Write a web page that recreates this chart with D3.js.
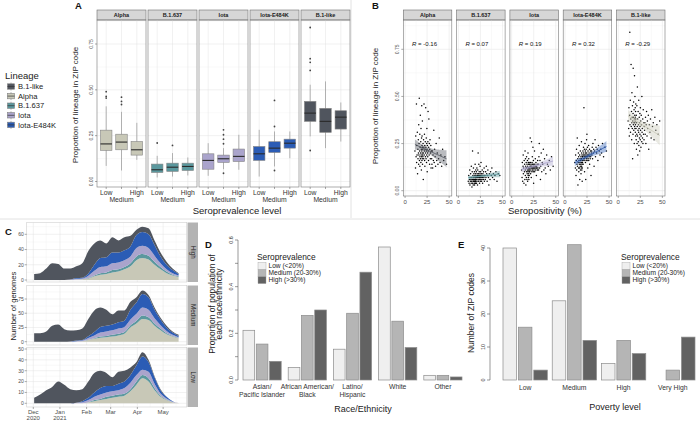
<!DOCTYPE html>
<html>
<head>
<meta charset="utf-8">
<script src="https://cdnjs.cloudflare.com/ajax/libs/d3/7.8.5/d3.min.js"></script>
<style>
body { margin: 0; background: #fff; }
svg text { font-family: "Liberation Sans", Arial, sans-serif; }
</style>
</head>
<body>
<script>
// ---------- data ----------
var lineages = ["B.1-like", "Alpha", "B.1.637", "Iota", "Iota-E484K"];
var lineageColors = ["#50555e", "#c8c8b7", "#5b989e", "#aaa4cc", "#2b5cb5"];
var facetsAB = ["Alpha", "B.1.637", "Iota", "Iota-E484K", "B.1-like"];
var seroLevels = ["Low", "Medium", "High"];

// boxplot stats per level: [lower whisker, q1, median, q3, upper whisker]
var boxAlpha  = [[0.085,0.17,0.205,0.28,0.41],[0.06,0.173,0.215,0.258,0.38],[0.118,0.144,0.173,0.218,0.32]];
var boxB1637  = [[0.022,0.049,0.064,0.095,0.14],[0.027,0.055,0.078,0.10,0.155],[0.033,0.06,0.082,0.10,0.131]];
var boxIota   = [[0.031,0.067,0.115,0.151,0.209],[0.067,0.104,0.124,0.144,0.182],[0.064,0.109,0.137,0.177,0.255]];
var boxE484K  = [[0.027,0.115,0.151,0.191,0.282],[0.082,0.158,0.182,0.217,0.273],[0.127,0.182,0.209,0.231,0.273]];
var boxB1like = [[0.246,0.328,0.373,0.437,0.528],[0.182,0.268,0.328,0.399,0.546],[0.218,0.286,0.351,0.386,0.431]];
// outliers: [level index, value]
var outAlpha  = [[0,0.455],[0,0.464],[0,0.49],[1,0.42],[1,0.437],[1,0.46]];
var outB1637  = [[0,0.21],[1,0.197]];
var outIota   = [[1,0.282],[1,0.255],[1,0.231],[1,0.206],[1,0.045]];
var outE484K  = [[1,0.442],[1,0.30],[1,0.06]];
var outB1like = [[0,0.84],[0,0.67],[0,0.65],[0,0.606],[0,0.169]];

// seropositivity (%) per ZIP code, and lineage proportions for the same ZIPs
var seroX = [11.2,11.8,12.1,12.5,12.9,13.1,13.3,13.6,13.9,14.2,14.5,14.7,15.0,15.2,15.4,15.5,15.7,15.9,16.1,16.3,
  16.5,16.7,16.8,16.9,17.1,17.3,17.4,17.6,17.8,17.9,18.1,18.2,18.4,18.5,18.7,18.8,18.9,19.0,19.1,19.2,
  19.3,19.4,19.5,19.6,19.7,19.8,19.9,
  20.1,20.3,20.4,20.6,20.8,21.0,21.1,21.3,21.5,21.7,21.8,22.0,22.2,22.4,22.5,22.7,22.9,23.1,23.2,23.4,
  23.6,23.8,24.0,24.1,24.3,24.5,24.6,24.7,24.9,25.1,25.3,25.5,25.7,25.9,26.1,26.3,26.6,26.8,27.0,27.3,
  27.5,27.8,28.0,28.3,28.6,28.9,29.2,29.5,29.8,
  30.2,30.5,30.9,31.3,31.7,32.1,32.6,33.0,33.5,34.1,34.6,35.2,35.9,36.5,37.3,38.0,38.8,39.7,40.6,41.5,
  42.6,43.8,45.2,47.0];
var yAlpha = [0.21,0.12,0.29,0.18,0.46,0.15,0.24,0.19,0.31,0.09,0.22,0.17,0.27,0.20,0.14,0.35,0.19,0.25,0.49,0.16,
  0.21,0.30,0.13,0.18,0.23,0.40,0.17,0.20,0.26,0.15,0.33,0.19,0.22,0.11,0.28,0.18,0.45,0.21,0.16,0.24,
  0.29,0.20,0.17,0.37,0.23,0.14,0.19,
  0.22,0.18,0.25,0.06,0.20,0.27,0.17,0.23,0.46,0.19,0.21,0.30,0.16,0.24,0.13,0.22,0.26,0.18,0.20,0.44,
  0.23,0.17,0.28,0.21,0.15,0.25,0.19,0.33,0.22,0.10,0.24,0.20,0.18,0.26,0.42,0.21,0.16,0.23,0.38,0.19,
  0.25,0.14,0.22,0.27,0.17,0.20,0.24,0.12,0.21,
  0.17,0.14,0.21,0.12,0.19,0.16,0.32,0.15,0.22,0.18,0.13,0.25,0.16,0.20,0.14,0.17,0.28,0.15,0.19,0.13,
  0.22,0.16,0.18,0.14];
var yB1637 = [0.05,0.08,0.04,0.06,0.11,0.03,0.07,0.05,0.09,0.06,0.04,0.13,0.05,0.07,0.02,0.06,0.10,0.04,0.21,0.06,
  0.08,0.05,0.03,0.07,0.12,0.05,0.06,0.09,0.04,0.07,0.05,0.10,0.03,0.06,0.08,0.05,0.04,0.14,0.06,0.07,
  0.05,0.09,0.04,0.06,0.11,0.05,0.07,
  0.08,0.06,0.10,0.04,0.07,0.12,0.05,0.09,0.07,0.03,0.08,0.11,0.06,0.20,0.07,0.09,0.05,0.08,0.14,0.06,
  0.10,0.07,0.04,0.08,0.06,0.09,0.13,0.07,0.05,0.08,0.10,0.06,0.15,0.07,0.09,0.05,0.08,0.06,0.11,0.07,
  0.04,0.09,0.08,0.06,0.10,0.07,0.12,0.05,0.08,
  0.08,0.06,0.10,0.07,0.13,0.09,0.05,0.08,0.11,0.07,0.03,0.09,0.06,0.10,0.08,0.12,0.07,0.09,0.06,0.08,
  0.10,0.05,0.09,0.08];
var yIota = [0.11,0.07,0.15,0.05,0.13,0.19,0.09,0.12,0.04,0.16,0.10,0.14,0.06,0.21,0.11,0.08,0.17,0.13,0.03,0.12,
  0.15,0.07,0.10,0.18,0.12,0.06,0.14,0.09,0.11,0.16,0.05,0.13,0.10,0.20,0.08,0.12,0.15,0.07,0.11,0.14,
  0.09,0.17,0.06,0.12,0.10,0.15,0.08,
  0.12,0.11,0.14,0.10,0.13,0.28,0.12,0.15,0.09,0.13,0.11,0.14,0.07,0.12,0.26,0.13,0.10,0.15,0.12,0.18,
  0.11,0.14,0.12,0.23,0.13,0.10,0.16,0.12,0.04,0.14,0.11,0.13,0.12,0.21,0.10,0.14,0.12,0.17,0.13,0.11,
  0.15,0.12,0.08,0.13,0.12,0.14,0.11,0.16,0.12,
  0.14,0.11,0.18,0.25,0.12,0.16,0.06,0.13,0.20,0.10,0.15,0.14,0.22,0.11,0.17,0.12,0.09,0.19,0.14,0.13,
  0.16,0.11,0.18,0.13];
var yE484K = [0.15,0.12,0.19,0.08,0.16,0.22,0.11,0.14,0.28,0.13,0.17,0.03,0.15,0.20,0.12,0.18,0.10,0.16,0.24,0.14,
  0.12,0.19,0.06,0.15,0.17,0.13,0.21,0.11,0.16,0.14,0.18,0.09,0.15,0.12,0.26,0.17,0.13,0.20,0.11,0.15,
  0.19,0.14,0.05,0.16,0.12,0.18,0.15,
  0.18,0.16,0.21,0.14,0.19,0.23,0.17,0.20,0.44,0.16,0.18,0.22,0.10,0.19,0.17,0.25,0.18,0.21,0.15,0.20,
  0.06,0.19,0.16,0.22,0.18,0.27,0.17,0.20,0.30,0.16,0.19,0.23,0.18,0.12,0.21,0.17,0.19,0.24,0.16,0.20,
  0.18,0.22,0.14,0.19,0.17,0.21,0.18,0.08,0.20,
  0.21,0.19,0.23,0.17,0.25,0.20,0.22,0.13,0.21,0.27,0.18,0.23,0.20,0.22,0.16,0.24,0.21,0.19,0.22,0.20,
  0.25,0.18,0.23,0.21];
var yB1like = [0.37,0.33,0.44,0.29,0.40,0.84,0.35,0.48,0.31,0.38,0.67,0.34,0.42,0.27,0.36,0.52,0.39,0.33,0.45,0.17,
  0.37,0.30,0.41,0.65,0.35,0.39,0.47,0.32,0.36,0.43,0.25,0.38,0.61,0.34,0.40,0.36,0.50,0.33,0.37,0.44,
  0.31,0.39,0.35,0.42,0.29,0.38,0.46,
  0.33,0.27,0.40,0.22,0.36,0.30,0.45,0.25,0.34,0.55,0.29,0.38,0.19,0.32,0.42,0.26,0.35,0.31,0.48,0.24,
  0.33,0.39,0.28,0.36,0.21,0.41,0.30,0.34,0.27,0.44,0.32,0.37,0.23,0.29,0.40,0.35,0.26,0.50,0.31,0.33,
  0.28,0.38,0.25,0.43,0.30,0.36,0.27,0.34,0.32,
  0.36,0.30,0.39,0.25,0.35,0.42,0.29,0.37,0.33,0.40,0.22,0.35,0.31,0.38,0.28,0.43,0.34,0.36,0.27,0.39,
  0.32,0.35,0.30,0.37];
var corrLabels = ["-0.16", "0.07", "0.19", "0.32", "-0.29"];
var fitColors = ["#50555e", "#5b989e", "#aaa4cc", "#2b5cb5", "#c8c8b7"];

// panel C: weekly genome counts by lineage, for each seroprevalence level
var weeks = ["2020-12-02","2020-12-09","2020-12-16","2020-12-23","2020-12-30","2021-01-06","2021-01-13",
  "2021-01-20","2021-01-27","2021-02-03","2021-02-10","2021-02-17","2021-02-24","2021-03-03","2021-03-10",
  "2021-03-17","2021-03-24","2021-03-31","2021-04-07","2021-04-14","2021-04-21","2021-04-28","2021-05-05",
  "2021-05-12","2021-05-19"];
var highAlpha  = [0,0,0,0,0,0,0,0.5,1,2,5,7,8,10,11,14,18,26,29,27,20,14,9,6,4];
var highB1637  = [0,0,0,0,0,0,0,0,0,0.5,1,2,2,3,3,3,4,5,5,5,4,3,2,1,1];
var highIota   = [0,0,0,0,0,0,0.5,1,1,3,6,8,8,9,9,9,9,11,11,10,8,5,3,2,1];
var highE484K  = [0,0,0,0,0,0,0,1,1,3,8,12,12,14,13,13,13,17,18,18,14,9,6,4,2];
var highB1like = [8,9,15,22,21,15,14.5,15.5,19,29.5,28,23,18,20,16,17,14,7,7,8,6,5,4,2,1];
var medAlpha   = [0,0,0,0,0,0,0,0.5,1,3,5,7,8,9,11,14,25,32,40,38,28,20,13,9,6];
var medB1637   = [0,0,0,0,0,0,0,0,0,0.5,1,2,2,3,3,3,4,5,6,5,4,3,2,1,1];
var medIota    = [0,0,0,0,0,0,0.5,0.5,1,3,5,7,8,8,9,9,10,12,14,13,9,6,4,2,1];
var medE484K   = [0,0,0,0,0,0,0,1,1,3,6,10,10,10,11,11,17,20,24,22,15,10,6,4,2];
var medB1like  = [15,15,18,28,30,22,19,18,20,30.5,38,34,28,18,21,18,14,9,6,4,4,3,3,2,2];
var lowAlpha   = [0,0,0,0,0,0,0,0,0,1,2,3,4,5,6,7,11,17,23,20,12,6,3,1,0.3];
var lowB1637   = [0,0,0,0,0,0,0,0,0,0,1,1,2,2,2,2,2,3,3,3,2,1,0.5,0,0];
var lowIota    = [0,0,0,0,0,0,0,0.5,1,2,3,4,4,4,4,5,6,6,5,6,4,2,1,0.5,0];
var lowE484K   = [0,0,0,0,0,0,0,0,1,2,4,6,6,5,6,6,7,9,12,9,6,3,1.5,0.5,0];
var lowB1like  = [5,8,12,15,20,17,13,11.5,11,15,18,16,12,8,11,10,7,3,4,2,1,1,0,0,0];
var monthTicks = ["2020-12-01","2021-01-01","2021-02-01","2021-03-01","2021-04-01","2021-05-01"];
var monthLabels = [["Dec","2020"],["Jan","2021"],["Feb"],["Mar"],["Apr"],["May"]];

// panel D: proportion of population by race/ethnicity
var raceLabels = [["Asian/","Pacific Islander"],["African American/","Black"],["Latino/","Hispanic"],["White"],["Other"]];
var raceLow  = [0.213, 0.054, 0.132, 0.57, 0.02];
var raceMed  = [0.154, 0.277, 0.286, 0.252, 0.02];
var raceHigh = [0.08, 0.30, 0.462, 0.139, 0.013];

// panel E: number of ZIP codes by poverty level
var povertyLevels = ["Low", "Medium", "High", "Very High"];
var zipLow  = [40, 24, 5, 0];
var zipMed  = [16, 41, 12, 3];
var zipHigh = [3, 12, 8, 13];

var seroLegend = ["Low (<20%)", "Medium (20-30%)", "High (>30%)"];
var seroFill = ["#efefef", "#b5b5b5", "#626262"];

// ---------- drawing ----------
var color = d3.scaleOrdinal(lineages, lineageColors);
var svg = d3.select("body").append("svg").attr("width", 700).attr("height", 421);

svg.append("line").attr("x1", 0).attr("x2", 700).attr("y1", 219).attr("y2", 219).attr("stroke", "#e2e2e2");
svg.append("line").attr("x1", 351).attr("x2", 351).attr("y1", 0).attr("y2", 218).attr("stroke", "#e2e2e2");

function panelLetter(x, y, t) {
  svg.append("text").attr("x", x).attr("y", y).attr("font-size", "9.5px")
    .attr("font-weight", "bold").attr("fill", "#111").text(t);
}
function vText(g, x, y, t, size, fill) {
  return g.append("text").attr("transform", "translate(" + x + "," + y + ") rotate(-90)")
    .attr("text-anchor", "middle").attr("font-size", size).attr("fill", fill || "#222").text(t);
}

panelLetter(75, 9, "A");
panelLetter(372, 9, "B");
panelLetter(5, 235, "C");
panelLetter(205, 248, "D");
panelLetter(458, 248, "E");

// lineage legend
var leg = svg.append("g");
leg.append("text").attr("x", 5).attr("y", 79).attr("font-size", "9.5px").attr("fill", "#222").text("Lineage");
lineages.forEach(function(l, i) {
  var cy = 86.5 + i * 9.6;
  leg.append("line").attr("x1", 11).attr("x2", 11).attr("y1", cy - 4).attr("y2", cy + 4)
    .attr("stroke", "#808080").attr("stroke-width", 0.6);
  leg.append("rect").attr("x", 7.5).attr("y", cy - 2.7).attr("width", 7).attr("height", 5.4)
    .attr("fill", color(l)).attr("stroke", "#808080").attr("stroke-width", 0.6);
  leg.append("line").attr("x1", 7.5).attr("x2", 14.5).attr("y1", cy).attr("y2", cy)
    .attr("stroke", "#333").attr("stroke-width", 0.7);
  leg.append("text").attr("x", 18).attr("y", cy + 2.7).attr("font-size", "7.6px").attr("fill", "#222").text(l);
});

// shared facet frame for A and B
var yTicksAB = [0, 0.25, 0.5, 0.75];
var yMinorAB = [0.125, 0.375, 0.625, 0.875];
function facetFrame(g, w, top, bot, y, title) {
  g.append("rect").attr("x", 0).attr("y", top).attr("width", w).attr("height", bot - top).attr("fill", "#fff");
  g.selectAll("line.minor").data(yMinorAB.filter(function(v) { return y(v) > top; })).join("line")
    .attr("x1", 0).attr("x2", w).attr("y1", function(d) { return y(d); }).attr("y2", function(d) { return y(d); })
    .attr("stroke", "#f1f1f1").attr("stroke-width", 0.4);
  g.selectAll("line.major").data(yTicksAB).join("line")
    .attr("x1", 0).attr("x2", w).attr("y1", function(d) { return y(d); }).attr("y2", function(d) { return y(d); })
    .attr("stroke", "#e3e3e3").attr("stroke-width", 0.5);
  g.append("rect").attr("x", 0).attr("y", top - 10).attr("width", w).attr("height", 10)
    .attr("fill", "#d6d6d6").attr("stroke", "#6e6e6e").attr("stroke-width", 0.6);
  g.append("text").attr("x", w / 2).attr("y", top - 3).attr("text-anchor", "middle")
    .attr("font-size", "5.5px").attr("font-weight", "bold").attr("fill", "#1a1a1a").text(title);
}
function facetBorder(g, w, top, bot) {
  g.append("rect").attr("x", 0).attr("y", top).attr("width", w).attr("height", bot - top)
    .attr("fill", "none").attr("stroke", "#777").attr("stroke-width", 0.6);
}

// ---- panel A ----
var boxStats = [boxAlpha, boxB1637, boxIota, boxE484K, boxB1like];
var boxOutliers = [outAlpha, outB1637, outIota, outE484K, outB1like];
var aLeft = 97, aStep = 51, aW = 49, aTop = 20, aBot = 187;
var yA = d3.scaleLinear().domain([0, 0.75]).range([181.5, 44]);
var xA = d3.scalePoint().domain(seroLevels).range([0, aW]).padding(0.6);

facetsAB.forEach(function(f, i) {
  var g = svg.append("g").attr("transform", "translate(" + (aLeft + i * aStep) + ",0)");
  facetFrame(g, aW, aTop, aBot, yA, f);
  g.selectAll("line.vgrid").data(seroLevels).join("line")
    .attr("x1", function(d) { return xA(d); }).attr("x2", function(d) { return xA(d); })
    .attr("y1", aTop).attr("y2", aBot).attr("stroke", "#e3e3e3").attr("stroke-width", 0.5);
  boxStats[i].forEach(function(s, j) {
    var cx = xA(seroLevels[j]), bw = 11.5;
    g.append("line").attr("x1", cx).attr("x2", cx).attr("y1", yA(s[0])).attr("y2", yA(s[4]))
      .attr("stroke", "#858585").attr("stroke-width", 0.6);
    g.append("rect").attr("x", cx - bw / 2).attr("y", yA(s[3])).attr("width", bw)
      .attr("height", yA(s[1]) - yA(s[3])).attr("fill", color(f))
      .attr("stroke", "#858585").attr("stroke-width", 0.6);
    g.append("line").attr("x1", cx - bw / 2).attr("x2", cx + bw / 2).attr("y1", yA(s[2])).attr("y2", yA(s[2]))
      .attr("stroke", "#2a2a2a").attr("stroke-width", 1.1);
  });
  g.selectAll("circle").data(boxOutliers[i]).join("circle")
    .attr("cx", function(d) { return xA(seroLevels[d[0]]); }).attr("cy", function(d) { return yA(d[1]); })
    .attr("r", 0.9).attr("fill", "#444");
  facetBorder(g, aW, aTop, aBot);
  seroLevels.forEach(function(l, j) {
    g.append("line").attr("x1", xA(l)).attr("x2", xA(l)).attr("y1", aBot).attr("y2", aBot + 2).attr("stroke", "#555").attr("stroke-width", 0.5);
    g.append("text").attr("x", xA(l)).attr("y", j === 1 ? 202 : 195).attr("text-anchor", "middle")
      .attr("font-size", "6.8px").attr("fill", "#333").text(l);
  });
});
yTicksAB.forEach(function(v) {
  svg.append("line").attr("x1", aLeft - 2).attr("x2", aLeft).attr("y1", yA(v)).attr("y2", yA(v)).attr("stroke", "#555").attr("stroke-width", 0.5);
  vText(svg, 92.5, yA(v), d3.format(".2f")(v), "5px", "#4d4d4d");
});
vText(svg, 78, 105, "Proportion of lineage in ZIP code", "8px");
svg.append("text").attr("x", 237).attr("y", 213.5).attr("text-anchor", "middle")
  .attr("font-size", "9.5px").attr("fill", "#222").text("Seroprevalence level");

// ---- panel B ----
var scatterY = [yAlpha, yB1637, yIota, yE484K, yB1like];
var bLeft = 403.3, bStep = 53.3, bW = 48.5, bTop = 20, bBot = 196;
var yB = d3.scaleLinear().domain([0, 0.75]).range([190.7, 49.3]);
var xB = d3.scaleLinear().domain([-2, 53]).range([0, bW]);

function linFit(xs, ys) {
  var n = xs.length, mx = d3.mean(xs), my = d3.mean(ys);
  var sxx = d3.sum(xs, function(x) { return (x - mx) * (x - mx); });
  var sxy = d3.sum(xs, function(x, i) { return (x - mx) * (ys[i] - my); });
  var b = sxy / sxx, a = my - b * mx;
  var sse = d3.sum(xs, function(x, i) { return Math.pow(ys[i] - a - b * x, 2); });
  var s = Math.sqrt(sse / (n - 2));
  var ext = d3.extent(xs);
  return d3.range(41).map(function(k) {
    var x = ext[0] + (ext[1] - ext[0]) * k / 40;
    var se = s * Math.sqrt(1 / n + (x - mx) * (x - mx) / sxx);
    return { x: x, y: a + b * x, lo: a + b * x - 1.98 * se, hi: a + b * x + 1.98 * se };
  });
}

facetsAB.forEach(function(f, i) {
  var g = svg.append("g").attr("transform", "translate(" + (bLeft + i * bStep) + ",0)");
  facetFrame(g, bW, bTop, bBot, yB, f);
  g.selectAll("line.vminor").data([12.5, 37.5]).join("line")
    .attr("x1", function(d) { return xB(d); }).attr("x2", function(d) { return xB(d); })
    .attr("y1", bTop).attr("y2", bBot).attr("stroke", "#f1f1f1").attr("stroke-width", 0.4);
  g.selectAll("line.vgrid").data([0, 25, 50]).join("line")
    .attr("x1", function(d) { return xB(d); }).attr("x2", function(d) { return xB(d); })
    .attr("y1", bTop).attr("y2", bBot).attr("stroke", "#e3e3e3").attr("stroke-width", 0.5);
  var ys = scatterY[i];
  g.selectAll("circle").data(seroX).join("circle")
    .attr("cx", function(d) { return xB(d); }).attr("cy", function(d, k) { return yB(ys[k]); })
    .attr("r", 0.75).attr("fill", "#000");
  var fit = linFit(seroX, ys);
  g.append("path").datum(fit)
    .attr("d", d3.area().x(function(d) { return xB(d.x); }).y0(function(d) { return yB(d.lo); }).y1(function(d) { return yB(d.hi); }))
    .attr("fill", fitColors[i]).attr("opacity", 0.4);
  g.append("path").datum(fit)
    .attr("d", d3.line().x(function(d) { return xB(d.x); }).y(function(d) { return yB(d.y); }))
    .attr("fill", "none").attr("stroke", fitColors[i]).attr("stroke-width", 0.9);
  var rt = g.append("text").attr("x", xB(8)).attr("y", yB(0.765)).attr("font-size", "6px").attr("fill", "#111");
  rt.append("tspan").attr("font-style", "italic").text("R");
  rt.append("tspan").text(" = " + corrLabels[i]);
  facetBorder(g, bW, bTop, bBot);
  [0, 25, 50].forEach(function(v) {
    g.append("line").attr("x1", xB(v)).attr("x2", xB(v)).attr("y1", bBot).attr("y2", bBot + 2).attr("stroke", "#555").attr("stroke-width", 0.5);
    g.append("text").attr("x", xB(v)).attr("y", 204).attr("text-anchor", "middle")
      .attr("font-size", "6px").attr("fill", "#4d4d4d").text(v);
  });
});
yTicksAB.forEach(function(v) {
  svg.append("line").attr("x1", bLeft - 2).attr("x2", bLeft).attr("y1", yB(v)).attr("y2", yB(v)).attr("stroke", "#555").attr("stroke-width", 0.5);
  vText(svg, 398.5, yB(v), d3.format(".2f")(v), "5px", "#4d4d4d");
});
vText(svg, 378, 106, "Proportion of lineage in ZIP code", "8px");
svg.append("text").attr("x", 545).attr("y", 214).attr("text-anchor", "middle")
  .attr("font-size", "9.5px").attr("fill", "#222").text("Seropositivity (%)");

// ---- panel C ----
var parse = d3.timeParse("%Y-%m-%d");
var stackKeys = ["Alpha", "B.1.637", "Iota", "Iota-E484K", "B.1-like"];
var cSeries = [
  [highAlpha, highB1637, highIota, highE484K, highB1like],
  [medAlpha, medB1637, medIota, medE484K, medB1like],
  [lowAlpha, lowB1637, lowIota, lowE484K, lowB1like]
];
var cFacets = ["High", "Medium", "Low"];
var cTops = [222.5, 285.5, 347.5], cH = 59.5;
var cTicks = [[0, 20, 40, 60], [0, 25, 50, 75], [0, 10, 20, 30, 40, 50]];
var cY = [
  d3.scaleLinear().domain([0, 60]).range([280, 234.3]),
  d3.scaleLinear().domain([0, 75]).range([341.7, 299]),
  d3.scaleLinear().domain([0, 50]).range([403.3, 349])
];
var cLeft = 26.7, cRight = 186.7;
var xC = d3.scaleTime().domain([new Date(2020, 10, 23, 8), new Date(2021, 4, 28, 10)]).range([cLeft, cRight]);
var monthDates = monthTicks.map(parse);
var midMonths = [parse("2020-11-16")].concat(monthDates.map(function(d) { return d3.timeDay.offset(d, 15); }));

cFacets.forEach(function(f, k) {
  var y = cY[k], top = cTops[k], bot = top + cH;
  var g = svg.append("g");
  var ticks = cTicks[k];
  var minor = ticks.map(function(t, j) { return j < ticks.length - 1 ? (t + ticks[j + 1]) / 2 : t + (ticks[1] - ticks[0]) / 2; });
  g.selectAll("line.hmin").data(minor.filter(function(v) { return y(v) > top; })).join("line")
    .attr("x1", cLeft).attr("x2", cRight).attr("y1", function(d) { return y(d); }).attr("y2", function(d) { return y(d); })
    .attr("stroke", "#f1f1f1").attr("stroke-width", 0.4);
  g.selectAll("line.vmin").data(midMonths.filter(function(d) { return xC(d) > cLeft && xC(d) < cRight; })).join("line")
    .attr("x1", function(d) { return xC(d); }).attr("x2", function(d) { return xC(d); })
    .attr("y1", top).attr("y2", bot).attr("stroke", "#f1f1f1").attr("stroke-width", 0.4);
  g.selectAll("line.hmaj").data(ticks.filter(function(v) { return y(v) > top; })).join("line")
    .attr("x1", cLeft).attr("x2", cRight).attr("y1", function(d) { return y(d); }).attr("y2", function(d) { return y(d); })
    .attr("stroke", "#e3e3e3").attr("stroke-width", 0.5);
  g.selectAll("line.vmaj").data(monthDates).join("line")
    .attr("x1", function(d) { return xC(d); }).attr("x2", function(d) { return xC(d); })
    .attr("y1", top).attr("y2", bot).attr("stroke", "#e3e3e3").attr("stroke-width", 0.5);

  var rows = weeks.map(function(w, i) {
    var r = { date: parse(w) };
    stackKeys.forEach(function(key, s) { r[key] = cSeries[k][s][i]; });
    return r;
  });
  var stacked = d3.stack().keys(stackKeys)(rows);
  var area = d3.area().curve(d3.curveMonotoneX)
    .x(function(d) { return xC(d.data.date); })
    .y0(function(d) { return y(d[0]); }).y1(function(d) { return y(d[1]); });
  g.selectAll("path.layer").data(stacked).join("path")
    .attr("d", area).attr("fill", function(d) { return color(d.key); });

  g.append("rect").attr("x", cLeft).attr("y", top).attr("width", cRight - cLeft).attr("height", cH)
    .attr("fill", "none").attr("stroke", "#d0d0d0").attr("stroke-width", 0.6);
  g.append("rect").attr("x", cRight + 0.8).attr("y", top).attr("width", 10.5).attr("height", cH).attr("fill", "#b3b3b3");
  g.append("text").attr("transform", "translate(" + (cRight + 3.8) + "," + (top + cH / 2) + ") rotate(90)")
    .attr("text-anchor", "middle").attr("font-size", "6.3px").attr("fill", "#1a1a1a").text(f);
  ticks.forEach(function(v) {
    if (y(v) < top) return;
    g.append("line").attr("x1", cLeft - 2).attr("x2", cLeft).attr("y1", y(v)).attr("y2", y(v)).attr("stroke", "#555").attr("stroke-width", 0.5);
    g.append("text").attr("x", cLeft - 3).attr("y", y(v) + 1.8).attr("text-anchor", "end")
      .attr("font-size", "5px").attr("fill", "#4d4d4d").text(v);
  });
});
monthDates.forEach(function(d, i) {
  var x = xC(d), base = cTops[2] + cH;
  svg.append("line").attr("x1", x).attr("x2", x).attr("y1", base).attr("y2", base + 2).attr("stroke", "#555").attr("stroke-width", 0.5);
  monthLabels[i].forEach(function(t, j) {
    svg.append("text").attr("x", x).attr("y", 414 + j * 5.6).attr("text-anchor", "middle")
      .attr("font-size", "6px").attr("fill", "#4d4d4d").text(t);
  });
});
vText(svg, 15.5, 306, "Number of genomes", "7.6px");

// ---- seroprevalence legend (D and E) ----
function seroLegendAt(x, y) {
  svg.append("text").attr("x", x).attr("y", y).attr("font-size", "8.4px").attr("fill", "#222").text("Seroprevalence");
  seroLegend.forEach(function(t, j) {
    var cy = y + 6.6 + j * 7;
    svg.append("rect").attr("x", x + 1).attr("y", cy - 3.5).attr("width", 8).attr("height", 7)
      .attr("fill", seroFill[j]).attr("stroke", "#a0a0a0").attr("stroke-width", 0.4);
    svg.append("text").attr("x", x + 11.5).attr("y", cy + 2.3).attr("font-size", "6.6px").attr("fill", "#222").text(t);
  });
}

// ---- panel D ----
var raceVals = [raceLow, raceMed, raceHigh];
var xD = d3.scaleBand().domain(d3.range(raceLabels.length)).range([243, 462]).paddingInner(0.155);
var xDi = d3.scaleBand().domain([0, 1, 2]).range([0, xD.bandwidth()]).paddingInner(0.12);
var yD = d3.scaleLinear().domain([0, 0.6]).range([380, 240]);
raceLabels.forEach(function(lab, i) {
  raceVals.forEach(function(vals, j) {
    svg.append("rect").attr("x", xD(i) + xDi(j)).attr("y", yD(vals[i])).attr("width", xDi.bandwidth())
      .attr("height", yD(0) - yD(vals[i])).attr("fill", seroFill[j]).attr("stroke", "#8c8c8c").attr("stroke-width", 0.7);
  });
  lab.forEach(function(t, j) {
    svg.append("text").attr("x", xD(i) + xD.bandwidth() / 2).attr("y", 389 + j * 8).attr("text-anchor", "middle")
      .attr("font-size", "6.8px").attr("fill", "#333").text(t);
  });
});
svg.append("line").attr("x1", 238).attr("x2", 238).attr("y1", yD(0)).attr("y2", yD(0.6)).attr("stroke", "#555").attr("stroke-width", 0.6);
d3.range(7).forEach(function(k) {
  var v = k / 10;
  svg.append("line").attr("x1", 235).attr("x2", 238).attr("y1", yD(v)).attr("y2", yD(v)).attr("stroke", "#555").attr("stroke-width", 0.6);
  if (k % 2 === 0) vText(svg, 232.5, yD(v), d3.format(".1f")(v), "5.5px", "#333");
});
vText(svg, 214.5, 304, "Proportion of population of", "8.5px");
vText(svg, 222, 304, "each race/ethnicity", "8.5px");
svg.append("text").attr("x", 363).attr("y", 412).attr("text-anchor", "middle")
  .attr("font-size", "9px").attr("fill", "#222").text("Race/Ethnicity");
seroLegendAt(257, 259.5);

// ---- panel E ----
var zipVals = [zipLow, zipMed, zipHigh];
var xE = d3.scaleBand().domain(d3.range(povertyLevels.length)).range([503, 695]).paddingInner(0.1);
var xEi = d3.scaleBand().domain([0, 1, 2]).range([0, xE.bandwidth()]).paddingInner(0.12);
var yE = d3.scaleLinear().domain([0, 40]).range([380, 248]);
povertyLevels.forEach(function(lab, i) {
  zipVals.forEach(function(vals, j) {
    svg.append("rect").attr("x", xE(i) + xEi(j)).attr("y", yE(vals[i])).attr("width", xEi.bandwidth())
      .attr("height", yE(0) - yE(vals[i])).attr("fill", seroFill[j]).attr("stroke", "#8c8c8c").attr("stroke-width", 0.7);
  });
  svg.append("text").attr("x", xE(i) + xE.bandwidth() / 2).attr("y", 389.5).attr("text-anchor", "middle")
    .attr("font-size", "6.8px").attr("fill", "#333").text(lab);
});
svg.append("line").attr("x1", 490).attr("x2", 490).attr("y1", yE(0)).attr("y2", yE(40)).attr("stroke", "#555").attr("stroke-width", 0.6);
[0, 10, 20, 30, 40].forEach(function(v) {
  svg.append("line").attr("x1", 487).attr("x2", 490).attr("y1", yE(v)).attr("y2", yE(v)).attr("stroke", "#555").attr("stroke-width", 0.6);
  vText(svg, 484.5, yE(v), v, "5.5px", "#333");
});
vText(svg, 474, 313, "Number of ZIP codes", "8.5px");
svg.append("text").attr("x", 615).attr("y", 409.5).attr("text-anchor", "middle")
  .attr("font-size", "9px").attr("fill", "#222").text("Poverty level");
seroLegendAt(621, 259.5);
</script>
</body>
</html>
